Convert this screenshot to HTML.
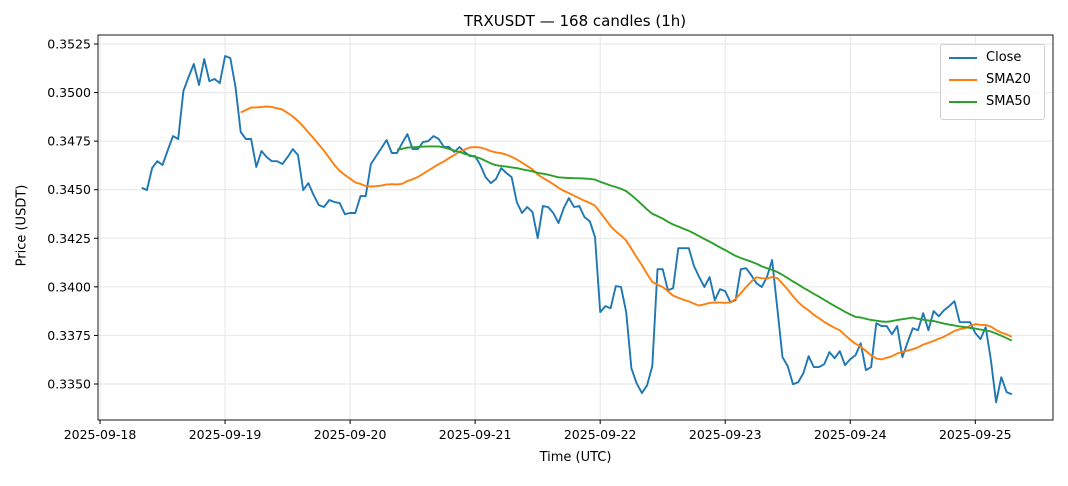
<!DOCTYPE html>
<html><head><meta charset="utf-8"><style>
body{margin:0;background:#fff;font-family:"Liberation Sans","DejaVu Sans",sans-serif;}
svg text{font-family:"DejaVu Sans","Liberation Sans",sans-serif;}
</style></head><body>
<svg id="c" width="1068" height="481" xmlns="http://www.w3.org/2000/svg"></svg>
<script>
const closes=[.34510,.34498,.34611,.34647,.34627,.34704,.34776,.34761,.35008,.35080,.35147,.35039,.35173,.35059,.35070,.35049,.35188,.35178,.35029,.34797,
.34761,.34761,.34617,.34699,.34668,.34647,.34647,.34632,.34668,.34709,.34678,.34498,.34534,.34472,.34421,.34411,.34447,.34436,.34431,.34374,
.34380,.34380,.34467,.34467,.34632,.34673,.34714,.34756,.34689,.34689,.34740,.34786,.34709,.34709,.34745,.34750,.34776,.34761,.34720,.34720,
.34694,.34720,.34694,.34673,.34673,.34627,.34565,.34534,.34555,.34611,.34586,.34565,.34436,.34380,.34411,.34385,.34251,.34416,.34411,.34380,
.34328,.34405,.34457,.34411,.34416,.34359,.34338,.34256,.33870,.33901,.33890,.34004,.33999,.33870,.33581,.33504,.33453,.33494,.33592,.34091,
.34091,.33983,.33993,.34199,.34199,.34199,.34107,.34050,.33999,.34050,.33932,.33988,.33978,.33921,.33932,.34091,.34096,.34060,.34019,.33999,
.34050,.34138,.33890,.33638,.33592,.33499,.33509,.33556,.33643,.33587,.33587,.33602,.33664,.33633,.33669,.33597,.33628,.33648,.33710,.33571,
.33587,.33813,.33798,.33798,.33756,.33798,.33638,.33715,.33787,.33777,.33865,.33777,.33875,.33849,.33880,.33901,.33926,.33818,.33818,.33818,
.33762,.33731,.33793,.33623,.33406,.33535,.33458,.33447];
const yTicks=[0.3350,0.3375,0.3400,0.3425,0.3450,0.3475,0.3500,0.3525];
const dateLabels=["2025-09-18","2025-09-19","2025-09-20","2025-09-21","2025-09-22","2025-09-23","2025-09-24","2025-09-25"];
const startHourOffset=8; // first candle 2025-09-18 08:00
const NS="http://www.w3.org/2000/svg",svg=document.getElementById('c');
const L=98,R=1053,T=35,B=420;
const xH=h=>141.7+5.21*(h-startHourOffset);
const xi=i=>xH(i+startHourOffset);
const y=v=>44+(0.3525-v)/0.0025*48.57;
function el(t,a,p){const e=document.createElementNS(NS,t);for(const k in a)e.setAttribute(k,a[k]);(p||svg).appendChild(e);return e;}
function sma(n){return closes.map((v,i)=>i<n-1?null:closes.slice(i-n+1,i+1).reduce((a,b)=>a+b,0)/n);}
yTicks.forEach(v=>{const g=el('line',{x1:L,x2:R,y1:y(v),y2:y(v),stroke:'#e6e6e6','stroke-width':1});

});
dateLabels.forEach((d,k)=>{const g=el('line',{x1:xH(24*k),x2:xH(24*k),y1:T,y2:B,stroke:'#e6e6e6','stroke-width':1});

});
function line(arr,color,name){let d='';arr.forEach((v,i)=>{if(v==null)return;d+=(d?'L':'M')+xi(i).toFixed(1)+','+y(v).toFixed(1);});
const p=el('path',{d:d,fill:'none',stroke:color,'stroke-width':1.9,'stroke-linejoin':'round'});

}
line(closes,'#1f77b4','close-line');
line(sma(20),'#ff7f0e','sma20-line');
line(sma(50),'#2ca02c','sma50-line');
const fr=el('rect',{x:L,y:T,width:R-L,height:B-T,fill:'none',stroke:'#000','stroke-width':0.9});


yTicks.forEach(v=>{el('line',{x1:L-4,x2:L,y1:y(v),y2:y(v),stroke:'#000'});
const t=el('text',{x:L-7,y:y(v)+4.5,'text-anchor':'end','font-size':12.5,fill:'#000'});t.textContent=v.toFixed(4);

});
dateLabels.forEach((d,k)=>{const x=xH(24*k);el('line',{x1:x,x2:x,y1:B,y2:B+4,stroke:'#000'});
const t=el('text',{x:x,y:B+19,'text-anchor':'middle','font-size':12.5,fill:'#000'});t.textContent=d;

});
</script>
<div style="position:absolute;left:0;top:0;width:1068px;height:481px;pointer-events:none">
<div style="position:absolute;top:12px;left:0;width:1150px;text-align:center;font:15px 'DejaVu Sans',sans-serif">TRXUSDT — 168 candles (1h)</div>
<div style="position:absolute;top:450px;left:98px;width:955px;text-align:center;font:13px 'DejaVu Sans',sans-serif">Time (UTC)</div>
<div style="position:absolute;left:-28px;top:218px;width:100px;text-align:center;transform:rotate(-90deg);font:13px 'DejaVu Sans',sans-serif">Price (USDT)</div>
<div style="position:absolute;left:940px;top:44px;width:103px;height:74px;border:1px solid #d0d0d0;border-radius:3px;background:rgba(255,255,255,.8);font:13px 'DejaVu Sans',sans-serif">
<div style="position:absolute;left:8px;top:5px"><span style="display:inline-block;width:28px;height:2px;background:#1f77b4;vertical-align:middle;margin-right:9px"></span>Close</div>
<div style="position:absolute;left:8px;top:27px"><span style="display:inline-block;width:28px;height:2px;background:#ff7f0e;vertical-align:middle;margin-right:9px"></span>SMA20</div>
<div style="position:absolute;left:8px;top:49px"><span style="display:inline-block;width:28px;height:2px;background:#2ca02c;vertical-align:middle;margin-right:9px"></span>SMA50</div>
</div></div>
</body></html>
